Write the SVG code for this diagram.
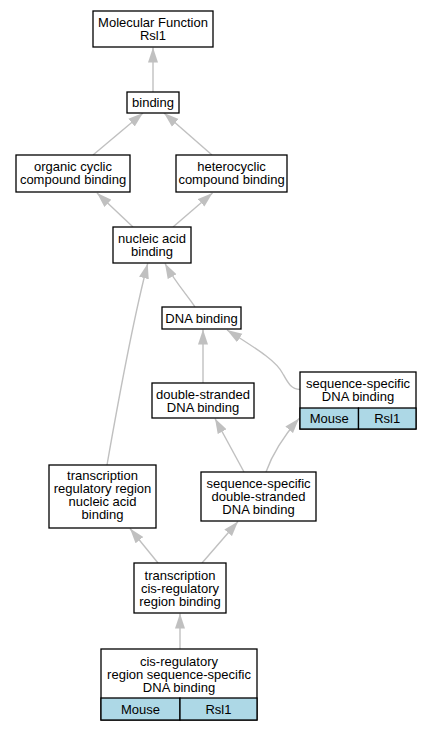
<svg xmlns="http://www.w3.org/2000/svg" width="431" height="731" viewBox="0 0 431 731">
<defs>
<marker id="arr" markerUnits="userSpaceOnUse" markerWidth="15" markerHeight="11" refX="15" refY="5.5" orient="auto">
<path d="M0,0.5 L15,5.5 L0,10.5 z" fill="#c0c0c0"/>
</marker>
</defs>
<style>
.box{fill:#ffffff;stroke:#000000;stroke-width:1.3}
.cell{fill:#add8e6;stroke:#000000;stroke-width:1.3}
.t{font-family:"Liberation Sans",Arial,sans-serif;font-size:13px;fill:#000000;text-anchor:middle}
.e{fill:none;stroke:#c0c0c0;stroke-width:1.4;marker-end:url(#arr)}
</style>
<rect width="431" height="731" fill="#ffffff"/>
<g id="edges">
<path class="e" d="M153,92 L153,47.5"/>
<path class="e" d="M93,155 L143,113"/>
<path class="e" d="M212,155 L164,113"/>
<path class="e" d="M133,227 L97,193"/>
<path class="e" d="M173,227 L212.5,193"/>
<path class="e" d="M195,307 C188,296 175,282 165,263.5"/>
<path class="e" d="M107,465 C121,385 133,320 147.7,263.5"/>
<path class="e" d="M203,383 L203,329.5"/>
<path class="e" d="M300,389.5 C291,389 288,383 283,374 C277,362 262,352 227,330"/>
<path class="e" d="M244,472 L215,418.5"/>
<path class="e" d="M266,472 C272,455 283,437 299,418.5"/>
<path class="e" d="M158,563 L130,528.5"/>
<path class="e" d="M202,563 L238,521.5"/>
<path class="e" d="M180,649 L180,613.5"/>
</g>
<g id="n_mf">
<rect class="box" x="93" y="11" width="120" height="36"/>
<text class="t" x="153" y="27.3">Molecular Function</text>
<text class="t" x="153" y="40.3">Rsl1</text>
</g>
<g id="n_binding">
<rect class="box" x="127" y="92" width="52" height="21"/>
<text class="t" x="153" y="107.3">binding</text>
</g>
<g id="n_organic">
<rect class="box" x="16" y="155" width="114" height="37"/>
<text class="t" x="73" y="170.5">organic cyclic</text>
<text class="t" x="73" y="183.5">compound binding</text>
</g>
<g id="n_hetero">
<rect class="box" x="176" y="155" width="111" height="37"/>
<text class="t" x="231.5" y="170.5">heterocyclic</text>
<text class="t" x="231.5" y="183.5">compound binding</text>
</g>
<g id="n_nucleic">
<rect class="box" x="113" y="227" width="78" height="36"/>
<text class="t" x="152" y="243">nucleic acid</text>
<text class="t" x="152" y="256">binding</text>
</g>
<g id="n_dna">
<rect class="box" x="162" y="307" width="79" height="22"/>
<text class="t" x="201.5" y="322.8">DNA binding</text>
</g>
<g id="n_ds">
<rect class="box" x="152" y="383" width="102" height="35"/>
<text class="t" x="203" y="398.5">double-stranded</text>
<text class="t" x="203" y="411.5">DNA binding</text>
</g>
<g id="n_ssdna">
<rect class="box" x="300" y="372" width="116" height="57"/>
<rect class="cell" x="300" y="408" width="58.5" height="21"/>
<rect class="cell" x="358.5" y="408" width="57.5" height="21"/>
<text class="t" x="358" y="388">sequence-specific</text>
<text class="t" x="358" y="401">DNA binding</text>
<text class="t" x="329.2" y="423.3">Mouse</text>
<text class="t" x="387.2" y="423.3">Rsl1</text>
</g>
<g id="n_trr">
<rect class="box" x="49" y="465" width="107" height="63"/>
<text class="t" x="102.5" y="479.8">transcription</text>
<text class="t" x="102.5" y="492.8">regulatory region</text>
<text class="t" x="102.5" y="505.8">nucleic acid</text>
<text class="t" x="102.5" y="518.8">binding</text>
</g>
<g id="n_ssds">
<rect class="box" x="201" y="472" width="115" height="49"/>
<text class="t" x="258.5" y="488">sequence-specific</text>
<text class="t" x="258.5" y="501">double-stranded</text>
<text class="t" x="258.5" y="514">DNA binding</text>
</g>
<g id="n_tc">
<rect class="box" x="134" y="563" width="92" height="50"/>
<text class="t" x="180" y="579.5">transcription</text>
<text class="t" x="180" y="592.5">cis-regulatory</text>
<text class="t" x="180" y="605.5">region binding</text>
</g>
<g id="n_cis">
<rect class="box" x="101" y="649" width="156" height="71"/>
<rect class="cell" x="101" y="698" width="79" height="22"/>
<rect class="cell" x="180" y="698" width="77" height="22"/>
<text class="t" x="179" y="665.5">cis-regulatory</text>
<text class="t" x="179" y="678.5">region sequence-specific</text>
<text class="t" x="179" y="691.5">DNA binding</text>
<text class="t" x="140.5" y="713.8">Mouse</text>
<text class="t" x="218.5" y="713.8">Rsl1</text>
</g>
</svg>
